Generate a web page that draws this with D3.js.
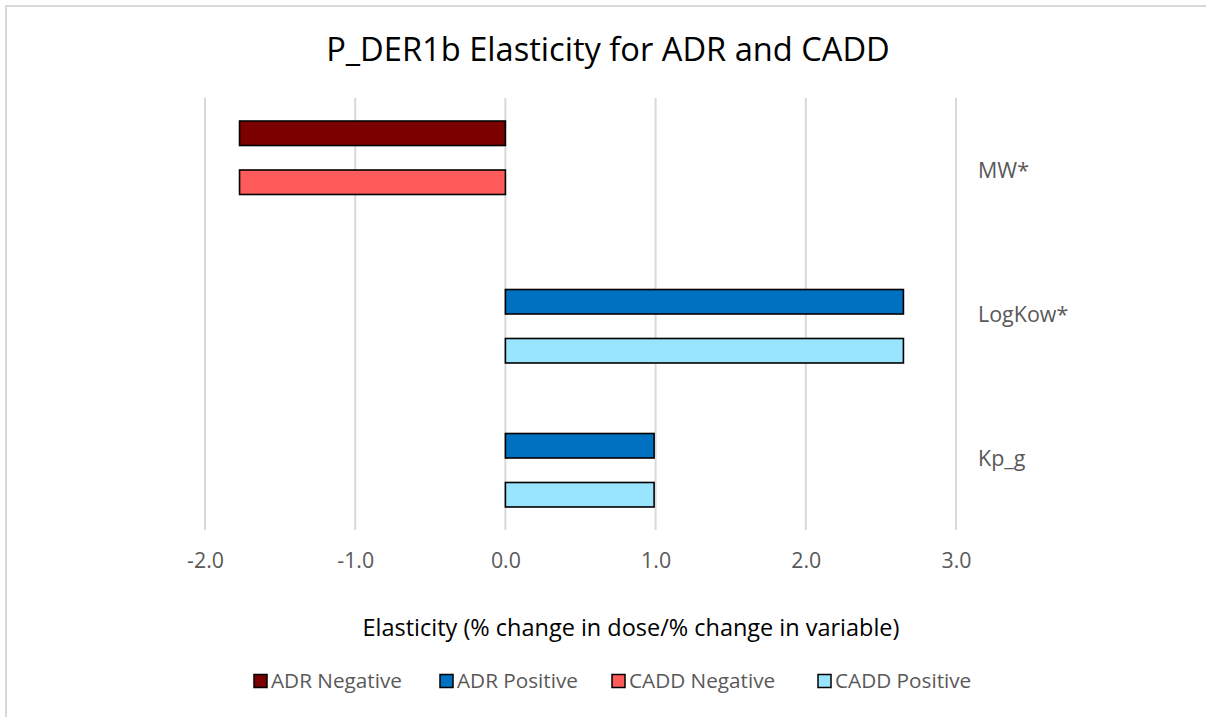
<!DOCTYPE html>
<html>
<head>
<meta charset="utf-8">
<script src="https://cdn.jsdelivr.net/npm/d3@7/dist/d3.min.js"></script>
<style>
  html, body { margin: 0; padding: 0; background: #fff; }
  svg { display: block; }
  text { font-family: "Open Sans", Lato, sans-serif; }
</style>
</head>
<body>
<svg id="chart" width="1206" height="717"></svg>
<script>
// Chart data
const categories = ["MW*", "LogKow*", "Kp_g"];
const seriesNames = ["ADR Negative", "ADR Positive", "CADD Negative", "CADD Positive"];
const adrNegative  = [-1.77, 0, 0];
const adrPositive  = [0, 2.65, 0.99];
const caddNegative = [-1.77, 0, 0];
const caddPositive = [0, 2.65, 0.99];
const xTicks = [-2, -1, 0, 1, 2, 3];
const titleText = "P_DER1b Elasticity for ADR and CADD";
const xAxisTitle = "Elasticity (% change in dose/% change in variable)";

const seriesValues = [adrNegative, adrPositive, caddNegative, caddPositive];
const colors = ["#7b0000", "#0070c0", "#ff5b5b", "#99e5ff"];

const svg = d3.select("#chart");

// font size that makes a sample string span a given width
function fitSize(sample, width, base) {
  const t = svg.append("text").attr("font-size", base).text(sample);
  const w = t.node().getComputedTextLength();
  t.remove();
  return base * width / w;
}

// outer chart border
svg.append("rect")
  .attr("x", 6).attr("y", 6).attr("width", 1206).attr("height", 717)
  .attr("fill", "none").attr("stroke", "#d9d9d9").attr("stroke-width", 2);

// scales
const x = d3.scaleLinear().domain([-2, 3]).range([205, 956]);
const y = d3.scaleBand().domain(categories).range([98, 530]).paddingInner(0).paddingOuter(0);
const ySub = d3.scaleBand().domain(seriesNames).range([0, y.bandwidth()]).paddingInner(0).paddingOuter(0.94);

// gridlines
svg.append("g").selectAll("line").data(xTicks).join("line")
  .attr("x1", d => x(d)).attr("x2", d => x(d))
  .attr("y1", 98).attr("y2", 530)
  .attr("stroke", "#d9d9d9").attr("stroke-width", 2);

// bars (zero values leave their slot empty)
const rows = [];
seriesNames.forEach((s, si) => {
  categories.forEach((c, ci) => {
    const v = seriesValues[si][ci];
    if (v !== 0) rows.push({ s, c, v, color: colors[si] });
  });
});
svg.append("g").selectAll("rect").data(rows).join("rect")
  .attr("x", d => Math.min(x(0), x(d.v)))
  .attr("width", d => Math.abs(x(d.v) - x(0)))
  .attr("y", d => y(d.c) + ySub(d.s))
  .attr("height", ySub.bandwidth())
  .attr("fill", d => d.color)
  .attr("stroke", "#000").attr("stroke-width", 1.6);

// category labels on the right
const catSize = fitSize("MW*", 51, 18);
svg.append("g").selectAll("text").data(categories).join("text")
  .attr("x", 978).attr("y", d => y(d) + y.bandwidth() / 2)
  .attr("dy", "0.35em")
  .attr("fill", "#595959").attr("font-size", catSize)
  .text(d => d);

// x-axis tick labels
const tickSize = fitSize("0.0", 30, 18);
const xAxis = d3.axisBottom(x).tickValues(xTicks).tickFormat(d => d.toFixed(1)).tickSize(0).tickPadding(0);
const gx = svg.append("g").attr("transform", "translate(0,553)").call(xAxis);
gx.select(".domain").remove();
gx.selectAll("text").attr("fill", "#595959").attr("font-size", tickSize)
  .style("font-family", "'Open Sans', Lato, sans-serif");

// title
svg.append("text")
  .attr("x", 608).attr("y", 50).attr("dy", "0.35em")
  .attr("text-anchor", "middle").attr("font-size", fitSize(titleText, 564, 30)).attr("fill", "#000")
  .text(titleText);

// axis title
svg.append("text")
  .attr("x", 631).attr("y", 628).attr("dy", "0.35em")
  .attr("text-anchor", "middle").attr("font-size", fitSize(xAxisTitle, 537, 20)).attr("fill", "#000")
  .text(xAxisTitle);

// legend
const legendSize = fitSize("ADR Negative", 131, 18);
const legendX = [254, 440, 612, 818];
const lg = svg.append("g").selectAll("g").data(seriesNames).join("g")
  .attr("transform", (d, i) => `translate(${legendX[i]},681)`);
lg.append("rect")
  .attr("x", 0).attr("y", -6.5).attr("width", 13).attr("height", 13)
  .attr("fill", (d, i) => colors[i]).attr("stroke", "#000").attr("stroke-width", 1.5);
lg.append("text")
  .attr("x", 17).attr("y", 0).attr("dy", "0.35em")
  .attr("font-size", legendSize).attr("fill", "#595959")
  .text(d => d);
</script>
</body>
</html>
